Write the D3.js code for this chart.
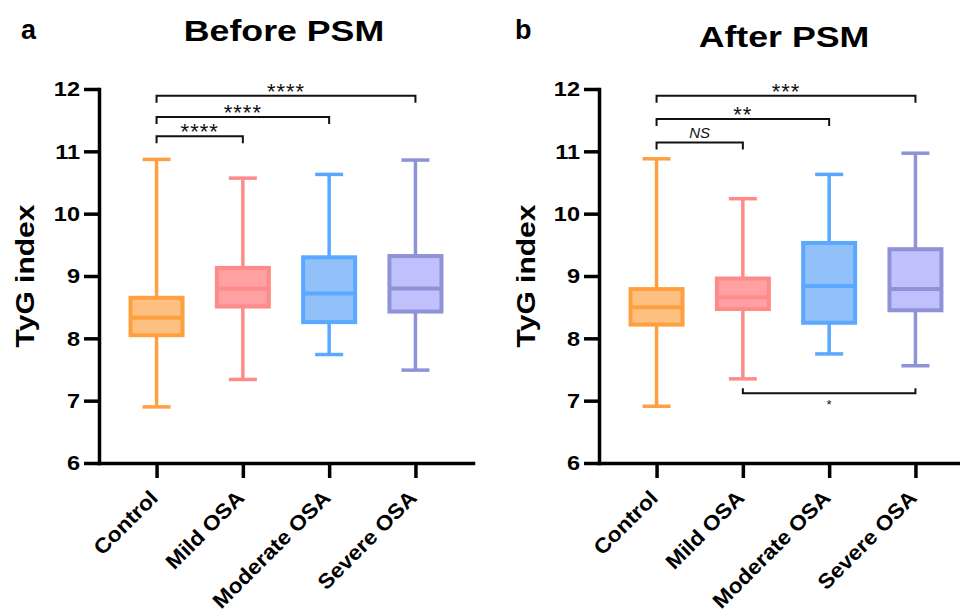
<!DOCTYPE html>
<html>
<head>
<meta charset="utf-8">
<script src="https://cdn.jsdelivr.net/npm/d3@7"></script>
<style>
  body { margin: 0; background: #fff; }
  text { font-family: "Liberation Sans", Arial, sans-serif; }
</style>
</head>
<body>
<script>
const groups = ["Control", "Mild OSA", "Moderate OSA", "Severe OSA"];
const strokeColors = ["#ffa040", "#ff8a8a", "#5aa8ff", "#8e92d6"];
const fillColors = ["#fdc080", "#ffa0a2", "#92c0f8", "#c0c0fc"];
const yTicks = [6, 7, 8, 9, 10, 11, 12];

// before PSM
const beforeMin = [6.90, 7.34, 7.74, 7.49];
const beforeQ1 = [8.05, 8.51, 8.26, 8.43];
const beforeMed = [8.33, 8.80, 8.72, 8.80];
const beforeQ3 = [8.65, 9.13, 9.30, 9.32];
const beforeMax = [10.87, 10.57, 10.63, 10.86];

// after PSM
const afterMin = [6.91, 7.35, 7.75, 7.56];
const afterQ1 = [8.22, 8.47, 8.25, 8.45];
const afterMed = [8.50, 8.66, 8.84, 8.79];
const afterQ3 = [8.79, 8.96, 9.53, 9.43];
const afterMax = [10.88, 10.24, 10.63, 10.97];

// significance brackets: from group, to group, height, label
const beforeSig = [
  {from: 0, to: 1, y: 11.24, label: "****"},
  {from: 0, to: 2, y: 11.55, label: "****"},
  {from: 0, to: 3, y: 11.89, label: "****"}
];
const afterSig = [
  {from: 0, to: 1, y: 11.14, label: "NS"},
  {from: 0, to: 2, y: 11.52, label: "**"},
  {from: 0, to: 3, y: 11.89, label: "***"},
  {from: 1, to: 3, y: 7.12, label: "*", below: true}
];

const W = 960, H = 610,
      AXIS_LEFT = 99,
      AXIS_RIGHT = 473,
      AXIS_TOP = 89,
      AXIS_BOTTOM = 463,
      PANEL_SHIFT = 500,
      BOX_W = 52,
      CAP_W = 28,
      DROP = 7;

const svg = d3.select("body").append("svg")
  .attr("width", W)
  .attr("height", H);

const y = d3.scaleLinear().domain([6, 12]).range([AXIS_BOTTOM, AXIS_TOP]);
const x = d3.scalePoint().domain(groups).range([AXIS_LEFT, AXIS_RIGHT]).padding(0.667);

// the reference font is wider than Arial, stretch glyphs along the text
function widen(sel, k) {
  sel.each(function() {
    let len = this.getComputedTextLength();
    d3.select(this)
      .attr("textLength", len * k)
      .attr("lengthAdjust", "spacingAndGlyphs");
  });
}

function drawPanel(shift, stats, sigs, title, titleY, letter) {
  let g = svg.append("g").attr("transform", "translate(" + shift + ",0)");

  let rows = groups.map((name, i) => ({
    name: name, i: i,
    min: stats.min[i], q1: stats.q1[i], med: stats.med[i], q3: stats.q3[i], max: stats.max[i]
  }));

  let boxes = g.selectAll("g.box").data(rows).enter().append("g")
    .attr("class", "box")
    .attr("transform", d => "translate(" + x(d.name) + ",0)");

  boxes.append("line")
    .attr("y1", d => y(d.min))
    .attr("y2", d => y(d.max))
    .attr("stroke", d => strokeColors[d.i])
    .attr("stroke-width", 3.5);

  boxes.selectAll("line.cap")
    .data(d => [d, d].map((r, k) => ({v: k ? r.max : r.min, i: r.i})))
    .enter().append("line")
    .attr("class", "cap")
    .attr("x1", -CAP_W / 2)
    .attr("x2", CAP_W / 2)
    .attr("y1", d => y(d.v))
    .attr("y2", d => y(d.v))
    .attr("stroke", d => strokeColors[d.i])
    .attr("stroke-width", 3.5);

  boxes.append("rect")
    .attr("x", -BOX_W / 2)
    .attr("width", BOX_W)
    .attr("y", d => y(d.q3))
    .attr("height", d => y(d.q1) - y(d.q3))
    .attr("fill", d => fillColors[d.i])
    .attr("stroke", d => strokeColors[d.i])
    .attr("stroke-width", 4);

  boxes.append("line")
    .attr("x1", -BOX_W / 2)
    .attr("x2", BOX_W / 2)
    .attr("y1", d => y(d.med))
    .attr("y2", d => y(d.med))
    .attr("stroke", d => strokeColors[d.i])
    .attr("stroke-width", 4);

  // axes
  let yAxis = g.append("g")
    .attr("transform", "translate(" + AXIS_LEFT + ",0)")
    .call(d3.axisLeft(y).tickValues(yTicks).tickFormat(d3.format("d")).tickSize(15).tickSizeOuter(0).tickPadding(4));

  let xAxis = g.append("g")
    .attr("transform", "translate(0," + AXIS_BOTTOM + ")")
    .call(d3.axisBottom(x).tickSize(15).tickSizeOuter(0));

  [yAxis, xAxis].forEach(a => {
    a.select(".domain").attr("stroke", "#000").attr("stroke-width", 3.5).attr("stroke-linecap", "square");
    a.selectAll(".tick line").attr("stroke", "#000").attr("stroke-width", 3.5);
    a.selectAll("text")
      .attr("fill", "#000")
      .style("font-family", "'Liberation Sans', Arial, sans-serif")
      .style("font-weight", "bold")
      .style("font-size", "21px");
  });
  yAxis.selectAll(".tick text").call(widen, 1.12);

  xAxis.selectAll(".tick text")
    .attr("x", 0)
    .attr("y", 0)
    .attr("dy", "0.35em")
    .attr("text-anchor", "end")
    .attr("transform", "translate(-3,31) rotate(-45)")
    .call(widen, 1.08);

  // significance brackets
  sigs.forEach(s => {
    let x1 = x(groups[s.from]), x2 = x(groups[s.to]), yy = y(s.y),
        d = s.below ? -DROP + 2 : DROP;
    g.append("path")
      .attr("d", "M" + x1 + "," + (yy + d) + "V" + yy + "H" + x2 + "V" + (yy + d))
      .attr("fill", "none")
      .attr("stroke", "#111")
      .attr("stroke-width", 2);

    let t = g.append("text")
      .attr("x", (x1 + x2) / 2)
      .attr("text-anchor", "middle")
      .attr("fill", "#111")
      .text(s.label);
    if (s.label == "NS") {
      t.attr("y", yy - 4.5).style("font-size", "15px").style("font-style", "italic");
    } else if (s.below) {
      t.attr("y", yy + 16).style("font-size", "13px");
    } else {
      t.attr("y", yy + 3).style("font-size", "22px").style("letter-spacing", "1px");
    }
  });

  // titles
  g.append("text")
    .attr("x", (AXIS_LEFT + AXIS_RIGHT) / 2 - 2)
    .attr("y", titleY)
    .attr("text-anchor", "middle")
    .style("font-size", "30px")
    .style("font-weight", "bold")
    .text(title)
    .call(widen, 1.19);

  g.append("text")
    .attr("x", letter == "a" ? 21 : 15)
    .attr("y", 39)
    .style("font-size", "27px")
    .style("font-weight", "bold")
    .text(letter);

  g.append("text")
    .attr("transform", "translate(" + (letter == "a" ? 34 : 35) + "," + (AXIS_TOP + AXIS_BOTTOM) / 2 + ") rotate(-90)")
    .attr("text-anchor", "middle")
    .style("font-size", "25px")
    .style("font-weight", "bold")
    .text("TyG index")
    .call(widen, 1.2);
}

drawPanel(0,
  {min: beforeMin, q1: beforeQ1, med: beforeMed, q3: beforeQ3, max: beforeMax},
  beforeSig, "Before PSM", 40.5, "a");

drawPanel(PANEL_SHIFT,
  {min: afterMin, q1: afterQ1, med: afterMed, q3: afterQ3, max: afterMax},
  afterSig, "After PSM", 46.5, "b");
</script>
</body>
</html>
